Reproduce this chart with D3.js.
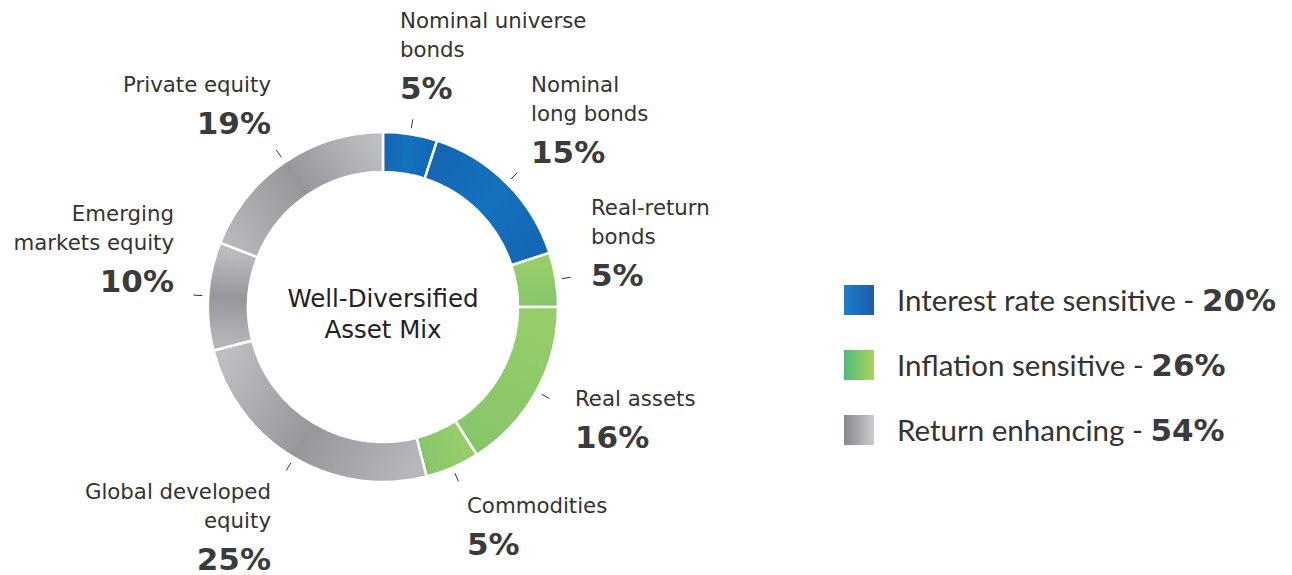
<!DOCTYPE html>
<html>
<head>
<meta charset="utf-8">
<script src="https://cdn.jsdelivr.net/npm/d3@7"></script>
<style>
  html, body { margin: 0; padding: 0; background: #ffffff; }
  svg { display: block; }
  text { font-family: "DejaVu Sans", sans-serif; }
  text.legend-text { font-family: Lato, sans-serif; }
  tspan.legend-pct { font-family: "DejaVu Sans", sans-serif; font-weight: bold; }
</style>
</head>
<body>
<svg id="chart" width="1292" height="575"></svg>
<script>
// ---- data ----
const categories = [
  ["Nominal universe", "bonds"],
  ["Nominal", "long bonds"],
  ["Real-return", "bonds"],
  ["Real assets"],
  ["Commodities"],
  ["Global developed", "equity"],
  ["Emerging", "markets equity"],
  ["Private equity"]
];
const values = [5, 15, 5, 16, 5, 25, 10, 19];
const groupOf = ["rate", "rate", "inflation", "inflation", "inflation", "return", "return", "return"];
const legendKeys = ["rate", "inflation", "return"];
const legendLabels = ["Interest rate sensitive - ", "Inflation sensitive - ", "Return enhancing - "];
const legendValues = [20, 26, 54];
const centerTitle = ["Well-Diversified", "Asset Mix"];

// ---- layout (positions only) ----
const cx = 383, cy = 307, rOuter = 175, rInner = 135;
const labelLayout = [
  { x: 400, y: 28,  anchor: "start" },
  { x: 531, y: 92,  anchor: "start" },
  { x: 591, y: 215, anchor: "start" },
  { x: 575, y: 406, anchor: "start" },
  { x: 467, y: 513, anchor: "start" },
  { x: 271, y: 499, anchor: "end" },
  { x: 174, y: 221, anchor: "end" },
  { x: 271, y: 92,  anchor: "end" }
];
const lineGap = 28.5, pctGap = 42;

const svg = d3.select("#chart");
const defs = svg.append("defs");

const ringColors = {
  rate: ["#1466b5", "#1472bd", "#1367b6"],
  inflation: ["#98ce69", "#8fca69", "#86c66b"],
  return: ["#b6b7ba", "#96979b", "#bdbec1"]
};
const legendColors = {
  rate: ["#1a80cc", "#1f5cab"],
  inflation: ["#4fbb7c", "#add35a"],
  return: ["#86878b", "#cbcccf"]
};

const pie = d3.pie().sort(null).value(d => d).startAngle(0).endAngle(2 * Math.PI);
const arcs = pie(values);
const arc = d3.arc().innerRadius(rInner).outerRadius(rOuter);
const rMid = (rInner + rOuter) / 2;

arcs.forEach((a, i) => {
  const c = ringColors[groupOf[i]];
  const g = defs.append("linearGradient")
    .attr("id", "sg" + i)
    .attr("gradientUnits", "userSpaceOnUse")
    .attr("x1", Math.sin(a.startAngle) * rMid).attr("y1", -Math.cos(a.startAngle) * rMid)
    .attr("x2", Math.sin(a.endAngle) * rMid).attr("y2", -Math.cos(a.endAngle) * rMid);
  g.append("stop").attr("offset", "0%").attr("stop-color", c[0]);
  g.append("stop").attr("offset", "50%").attr("stop-color", c[1]);
  g.append("stop").attr("offset", "100%").attr("stop-color", c[2]);
});
legendKeys.forEach(k => {
  const c = legendColors[k];
  const g = defs.append("linearGradient")
    .attr("id", "lg-" + k)
    .attr("x1", "0").attr("y1", "0").attr("x2", "1").attr("y2", "0");
  g.append("stop").attr("offset", "0%").attr("stop-color", c[0]);
  g.append("stop").attr("offset", "100%").attr("stop-color", c[1]);
});

const ring = svg.append("g").attr("transform", `translate(${cx},${cy})`);
ring.selectAll("path.slice")
  .data(arcs)
  .join("path")
  .attr("class", "slice")
  .attr("d", arc)
  .attr("fill", (d, i) => `url(#sg${i})`)
  .attr("stroke", "#ffffff")
  .attr("stroke-width", 2.5);

// tick marks at slice mid angles
ring.selectAll("line.tick")
  .data(arcs)
  .join("line")
  .attr("class", "tick")
  .each(function (d) {
    const m = (d.startAngle + d.endAngle) / 2;
    d3.select(this)
      .attr("x1", Math.sin(m) * 181).attr("y1", -Math.cos(m) * 181)
      .attr("x2", Math.sin(m) * 190).attr("y2", -Math.cos(m) * 190);
  })
  .attr("stroke", "#333")
  .attr("stroke-width", 1);

// center title
ring.selectAll("text.title")
  .data(centerTitle)
  .join("text")
  .attr("class", "title")
  .attr("x", 0)
  .attr("y", (d, i) => -0.5 + i * 31)
  .attr("text-anchor", "middle")
  .attr("font-size", 24.5)
  .attr("fill", "#222")
  .text(d => d);

// slice labels
categories.forEach((lines, i) => {
  const L = labelLayout[i];
  const g = svg.append("g");
  lines.forEach((t, j) => {
    g.append("text")
      .attr("x", L.x).attr("y", L.y + j * lineGap)
      .attr("text-anchor", L.anchor)
      .attr("font-size", 21.3)
      .attr("fill", "#333")
      .text(t);
  });
  g.append("text")
    .attr("x", L.x).attr("y", L.y + (lines.length - 1) * lineGap + pctGap)
    .attr("text-anchor", L.anchor)
    .attr("font-size", 31)
    .attr("font-weight", "bold")
    .attr("fill", "#3b3b3b")
    .text(values[i] + "%");
});

// legend
const legendY = d3.scalePoint().domain(legendKeys).range([285, 415]);
const leg = svg.append("g");
legendKeys.forEach((k, i) => {
  const y = legendY(k);
  leg.append("rect")
    .attr("x", 844).attr("y", y).attr("width", 30).attr("height", 30)
    .attr("fill", `url(#lg-${k})`);
  const t = leg.append("text")
    .attr("class", "legend-text")
    .attr("x", 897).attr("y", y + 26)
    .attr("font-size", 29.5)
    .attr("fill", "#333");
  t.append("tspan").text(legendLabels[i]);
  t.append("tspan")
    .attr("class", "legend-pct")
    .attr("font-size", 31)
    .attr("fill", "#3b3b3b").text(legendValues[i] + "%");
});
</script>
</body>
</html>
